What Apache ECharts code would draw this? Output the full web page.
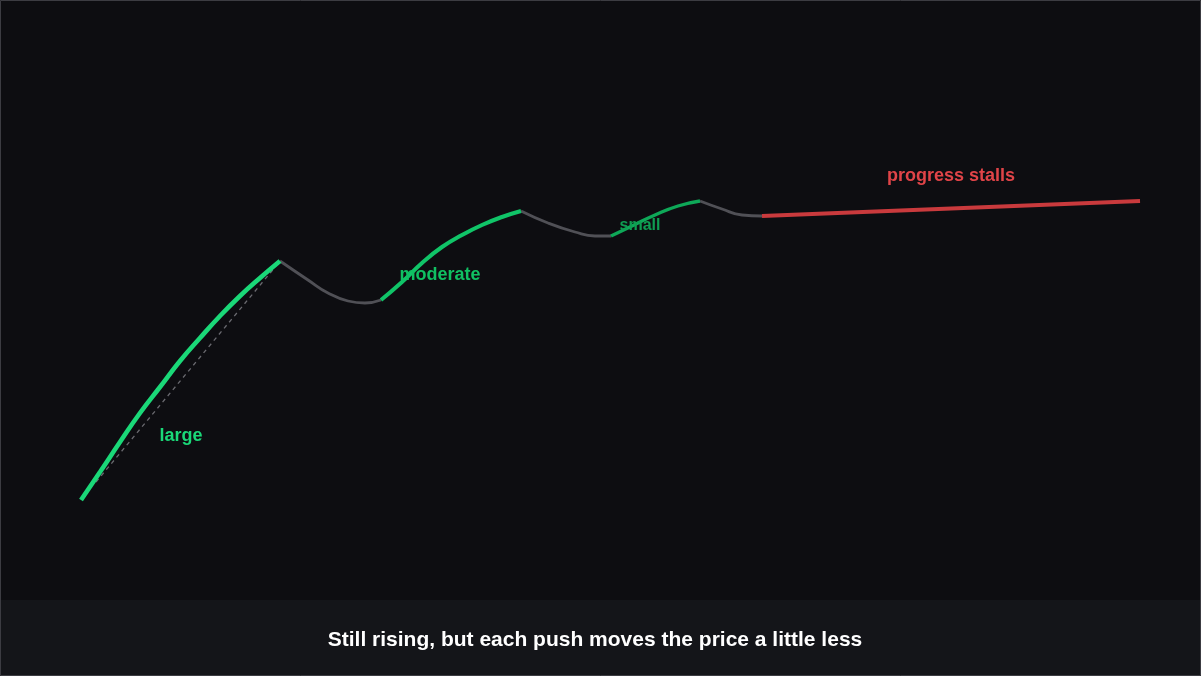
<!DOCTYPE html>
<html>
<head>
<meta charset="utf-8">
<script src="https://cdn.jsdelivr.net/npm/echarts@6/dist/echarts.min.js"></script>
<style>
html,body{margin:0;padding:0;background:#0d0d11;}
#chart{width:1201px;height:676px;}
</style>
</head>
<body>
<div id="chart"></div>
<script>
// Price path (x = time position, y = price level)
const largePush = [[81,100],[100,128],[120,158],[140,187],[160,213],[180,239],[200,262],[220,284],[240,304],[260,322],[280,339]];
const pullback1 = [[280,339],[308,320],[328,307],[348,299],[365,297],[381,300]];
const moderatePush = [[381,300],[402,318],[422,337],[442,353],[462,365],[482,375],[502,383],[521,389]];
const pullback2 = [[521,389],[548,377],[575,368],[595,364],[611,364]];
const smallPush = [[611,364],[632,374],[655,385],[678,394],[700,399]];
const pullback3 = [[700,399],[722,391],[742,385],[762,384]];
const stall = [[762,384],[1140,399]];
const chord = [[96,118],[276,334]];
const labels = [
  {name:'large', value:[181,164], color:'#1ad878', size:18},
  {name:'moderate', value:[440,325], color:'#10c062', size:18},
  {name:'small', value:[640,374], color:'#0f9d52', size:16},
  {name:'progress stalls', value:[951,424], color:'#e04448', size:18}
];
const caption = 'Still rising, but each push moves the price a little less';

const chart = echarts.init(document.getElementById('chart'));
const FONT = '"Liberation Sans", Arial, sans-serif';

function lineSeries(data, color, width, extra){
  return Object.assign({
    type:'line', data:data, showSymbol:false, symbol:'none',
    smooth:0.5, silent:true,
    lineStyle:{color:color, width:width, cap:'butt'}
  }, extra||{});
}

chart.setOption({
  backgroundColor:'#0d0d11',
  animation:false,
  grid:{left:0,right:1,top:0,height:600},
  xAxis:{type:'value',min:0,max:1200,show:false},
  yAxis:{type:'value',min:0,max:600,show:false},
  graphic:[
    {type:'rect',left:0,top:600,shape:{width:1201,height:76},style:{fill:'#141519'},z:-10},
    {type:'text',x:595,y:640,style:{text:caption,fill:'#ffffff',font:'bold 21px '+FONT,textAlign:'center',textVerticalAlign:'middle'},z:10},
    {type:'rect',x:0,y:0,shape:{x:0.5,y:0.5,width:1200,height:675},style:{fill:'none',stroke:'#3c3c42',lineWidth:1},z:20}
  ],
  series:[
    lineSeries(chord,'#6a6a70',1.3,{smooth:false,lineStyle:{color:'#6a6a70',width:1.3,type:[4,4]}}),
    lineSeries(pullback1,'#505056',2.8),
    lineSeries(pullback2,'#505056',2.8),
    lineSeries(pullback3,'#505056',2.8),
    lineSeries(largePush,'#1ad878',4.6),
    lineSeries(moderatePush,'#10c468',4),
    lineSeries(smallPush,'#0ea858',3.4),
    lineSeries(stall,'#c93a3d',4,{smooth:false}),
    {
      type:'scatter', symbolSize:0, silent:true, itemStyle:{opacity:1},
      data:labels.map(l=>({name:l.name,value:l.value,
        label:{show:true,position:'inside',formatter:'{b}',color:l.color,opacity:1,fontSize:l.size,fontWeight:'bold',fontFamily:FONT}})),
      z:5
    }
  ]
});
</script>
</body>
</html>
